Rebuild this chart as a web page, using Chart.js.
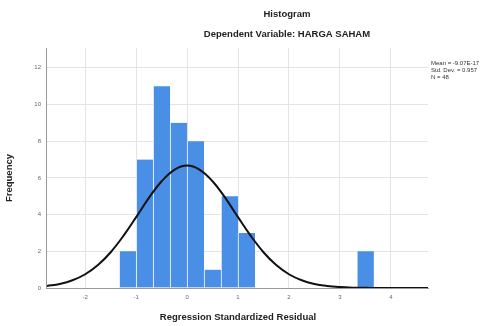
<!DOCTYPE html>
<html>
<head>
<meta charset="utf-8">
<script src="https://cdn.jsdelivr.net/npm/chart.js@4/dist/chart.umd.min.js"></script>
<style>
  html, body { margin: 0; padding: 0; background: #fff; }
  #wrap { width: 485px; height: 326px; }
</style>
</head>
<body>
<div id="wrap"><canvas id="histChart" width="485" height="326"></canvas></div>
<script>
// bin centres (width 1/3) and counts
const binCenters = [-1.1667, -0.8333, -0.5, -0.1667, 0.1667, 0.5, 0.8333, 1.1667, 3.5];
const binCounts = [2, 7, 11, 9, 8, 1, 5, 3, 2];

// normal curve
const curveX = [-2.75, -2.5, -2.25, -2, -1.75, -1.5, -1.25, -1, -0.75, -0.5, -0.25, 0,
                0.25, 0.5, 0.75, 1, 1.25, 1.5, 1.75, 2, 2.25, 2.5, 2.75, 3, 3.25, 3.5, 3.75, 4, 4.25, 4.5, 4.75];
const curveY = [0.11, 0.22, 0.42, 0.75, 1.25, 1.95, 2.84, 3.86, 4.91, 5.82, 6.44, 6.67,
                6.44, 5.82, 4.91, 3.86, 2.84, 1.95, 1.25, 0.75, 0.42, 0.22, 0.11, 0.05, 0.02, 0.01, 0, 0, 0, 0, 0];

const xTicks = [-2, -1, 0, 1, 2, 3, 4];
const yTicks = [0, 2, 4, 6, 8, 10, 12];

const statsLines = ["Mean = -9.07E-17", "Std. Dev. = 0.957", "N = 48"];

const textPlugin = {
    id: "spssText",
    afterDraw(chart) {
        const ctx = chart.ctx;
        ctx.save();
        ctx.fillStyle = "#222";
        ctx.textAlign = "center";
        ctx.textBaseline = "middle";
        ctx.font = "bold 9.5px 'Liberation Sans', Arial, sans-serif";
        ctx.fillText("Histogram", 287, 14);
        ctx.fillText("Dependent Variable: HARGA SAHAM", 287, 34);
        ctx.fillText("Regression Standardized Residual", 238, 317);

        ctx.save();
        ctx.translate(9, 178);
        ctx.rotate(-Math.PI / 2);
        ctx.fillText("Frequency", 0, 0);
        ctx.restore();

        ctx.textAlign = "left";
        ctx.font = "6px 'Liberation Sans', Arial, sans-serif";
        ctx.fillStyle = "#333";
        statsLines.forEach((t, i) => ctx.fillText(t, 431, 63 + i * 7));
        ctx.restore();
    }
};

const ctx = document.getElementById("histChart").getContext("2d");
new Chart(ctx, {
    type: "bar",
    data: {
        datasets: [
            {
                type: "line",
                data: curveX.map((x, i) => ({ x: x, y: curveY[i] })),
                borderColor: "#111",
                borderWidth: 2,
                pointRadius: 0,
                tension: 0.4,
                order: 0
            },
            {
                type: "bar",
                data: binCenters.map((x, i) => ({ x: x, y: binCounts[i] })),
                backgroundColor: "#4a8fe6",
                borderColor: "#ffffff",
                borderWidth: { left: 1, right: 0, top: 0, bottom: 0 },
                barPercentage: 1,
                categoryPercentage: 1,
                order: 1
            }
        ]
    },
    options: {
        responsive: false,
        animation: false,
        layout: { padding: { left: 0, top: 48, right: 57, bottom: 0 } },
        plugins: {
            legend: { display: false },
            tooltip: { enabled: false }
        },
        scales: {
            x: {
                type: "linear",
                min: -2.77,
                max: 4.73,
                offset: false,
                afterBuildTicks: s => { s.ticks = xTicks.map(v => ({ value: v })); },
                afterFit: s => { s.height = 38; },
                grid: { color: "#e4e4e4", drawTicks: false, offset: false },
                border: { color: "#999" },
                ticks: { color: "#666", font: { size: 6 }, padding: 6 }
            },
            y: {
                min: 0,
                max: 13.08,
                afterBuildTicks: s => { s.ticks = yTicks.map(v => ({ value: v })); },
                afterFit: s => { s.width = 46; },
                grid: { color: "#e4e4e4", drawTicks: false },
                border: { color: "#999" },
                ticks: { color: "#666", font: { size: 6 }, padding: 5 }
            }
        }
    },
    plugins: [textPlugin]
});
</script>
</body>
</html>
